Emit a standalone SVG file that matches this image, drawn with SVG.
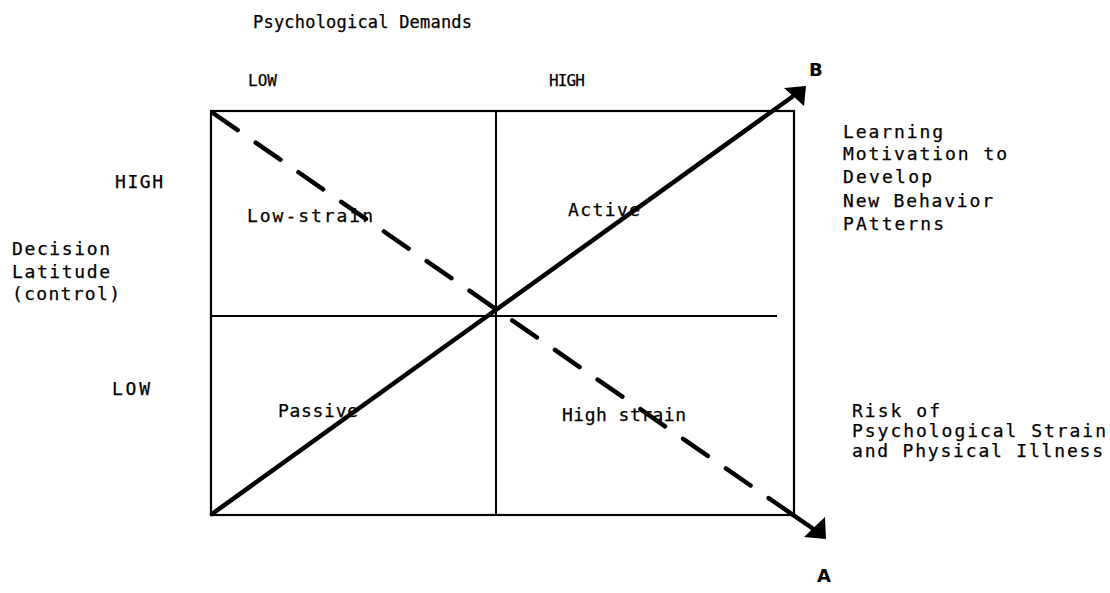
<svg xmlns="http://www.w3.org/2000/svg" width="1110" height="593" viewBox="0 0 1110 593">
<style>
text{font-family:"DejaVu Sans Mono","Liberation Mono",monospace;font-size:18px;fill:#000;stroke:#000;stroke-width:0.25}
.t{font-size:17px}
.s{font-size:16px}
.b{font-family:"DejaVu Sans","Liberation Sans",sans-serif;font-weight:bold;font-size:18px;stroke:none}
.box{fill:none;stroke:#000;stroke-width:2.2}
.grid{stroke:#000;stroke-width:2}
.diag{stroke:#000;stroke-width:4.5;fill:none;stroke-linecap:round}
.dash{stroke:#000;stroke-width:4.5;fill:none;stroke-dasharray:30 22;stroke-linecap:round}
.head{fill:#000}
</style>
<rect width="1110" height="593" fill="#fff"/>
<g id="axis-top">
<text class="t" x="253" y="28" textLength="219">Psychological Demands</text>
<text class="s" x="248" y="86" textLength="29">LOW</text>
<text class="s" x="549" y="86" textLength="36">HIGH</text>
</g>
<g id="axis-left">
<text x="115" y="188" textLength="48">HIGH</text>
<text x="12" y="255" textLength="98">Decision</text>
<text x="12" y="278" textLength="98">Latitude</text>
<text x="12" y="300" textLength="108">(control)</text>
<text x="112" y="395" textLength="38">LOW</text>
</g>
<g id="grid">
<rect class="box" x="211" y="111" width="583" height="404"/>
<line class="grid" x1="496" y1="111" x2="496" y2="515"/>
<line class="grid" x1="211" y1="316" x2="777" y2="316"/>
</g>
<g id="q-lowstrain"><text x="247" y="222" textLength="126">Low-strain</text></g>
<g id="q-active"><text x="568" y="216" textLength="72">Active</text></g>
<g id="q-passive"><text x="278" y="417" textLength="80">Passive</text></g>
<g id="q-highstrain"><text x="562" y="421" textLength="124">High strain</text></g>
<g id="connectors">
<line class="diag" x1="212" y1="514" x2="792" y2="97"/>
<polygon class="head" points="784,88 806,86 804,106"/>
<line class="dash" x1="213" y1="113" x2="770" y2="499"/>
<line class="diag" x1="770" y1="499" x2="812" y2="528"/>
<polygon class="head" points="804,537 826,539 825,517"/>
</g>
<g id="label-B"><text class="b" x="809" y="76">B</text></g>
<g id="label-B-desc">
<text x="843" y="138" textLength="100">Learning</text>
<text x="843" y="160" textLength="164">Motivation to</text>
<text x="843" y="183" textLength="89">Develop</text>
<text x="843" y="207" textLength="150">New Behavior</text>
<text x="843" y="230" textLength="101">PAtterns</text>
</g>
<g id="label-A"><text class="b" x="817" y="582">A</text></g>
<g id="label-A-desc">
<text x="852" y="417" textLength="88">Risk of</text>
<text x="852" y="437" textLength="254">Psychological Strain</text>
<text x="852" y="457" textLength="251">and Physical Illness</text>
</g>
</svg>
